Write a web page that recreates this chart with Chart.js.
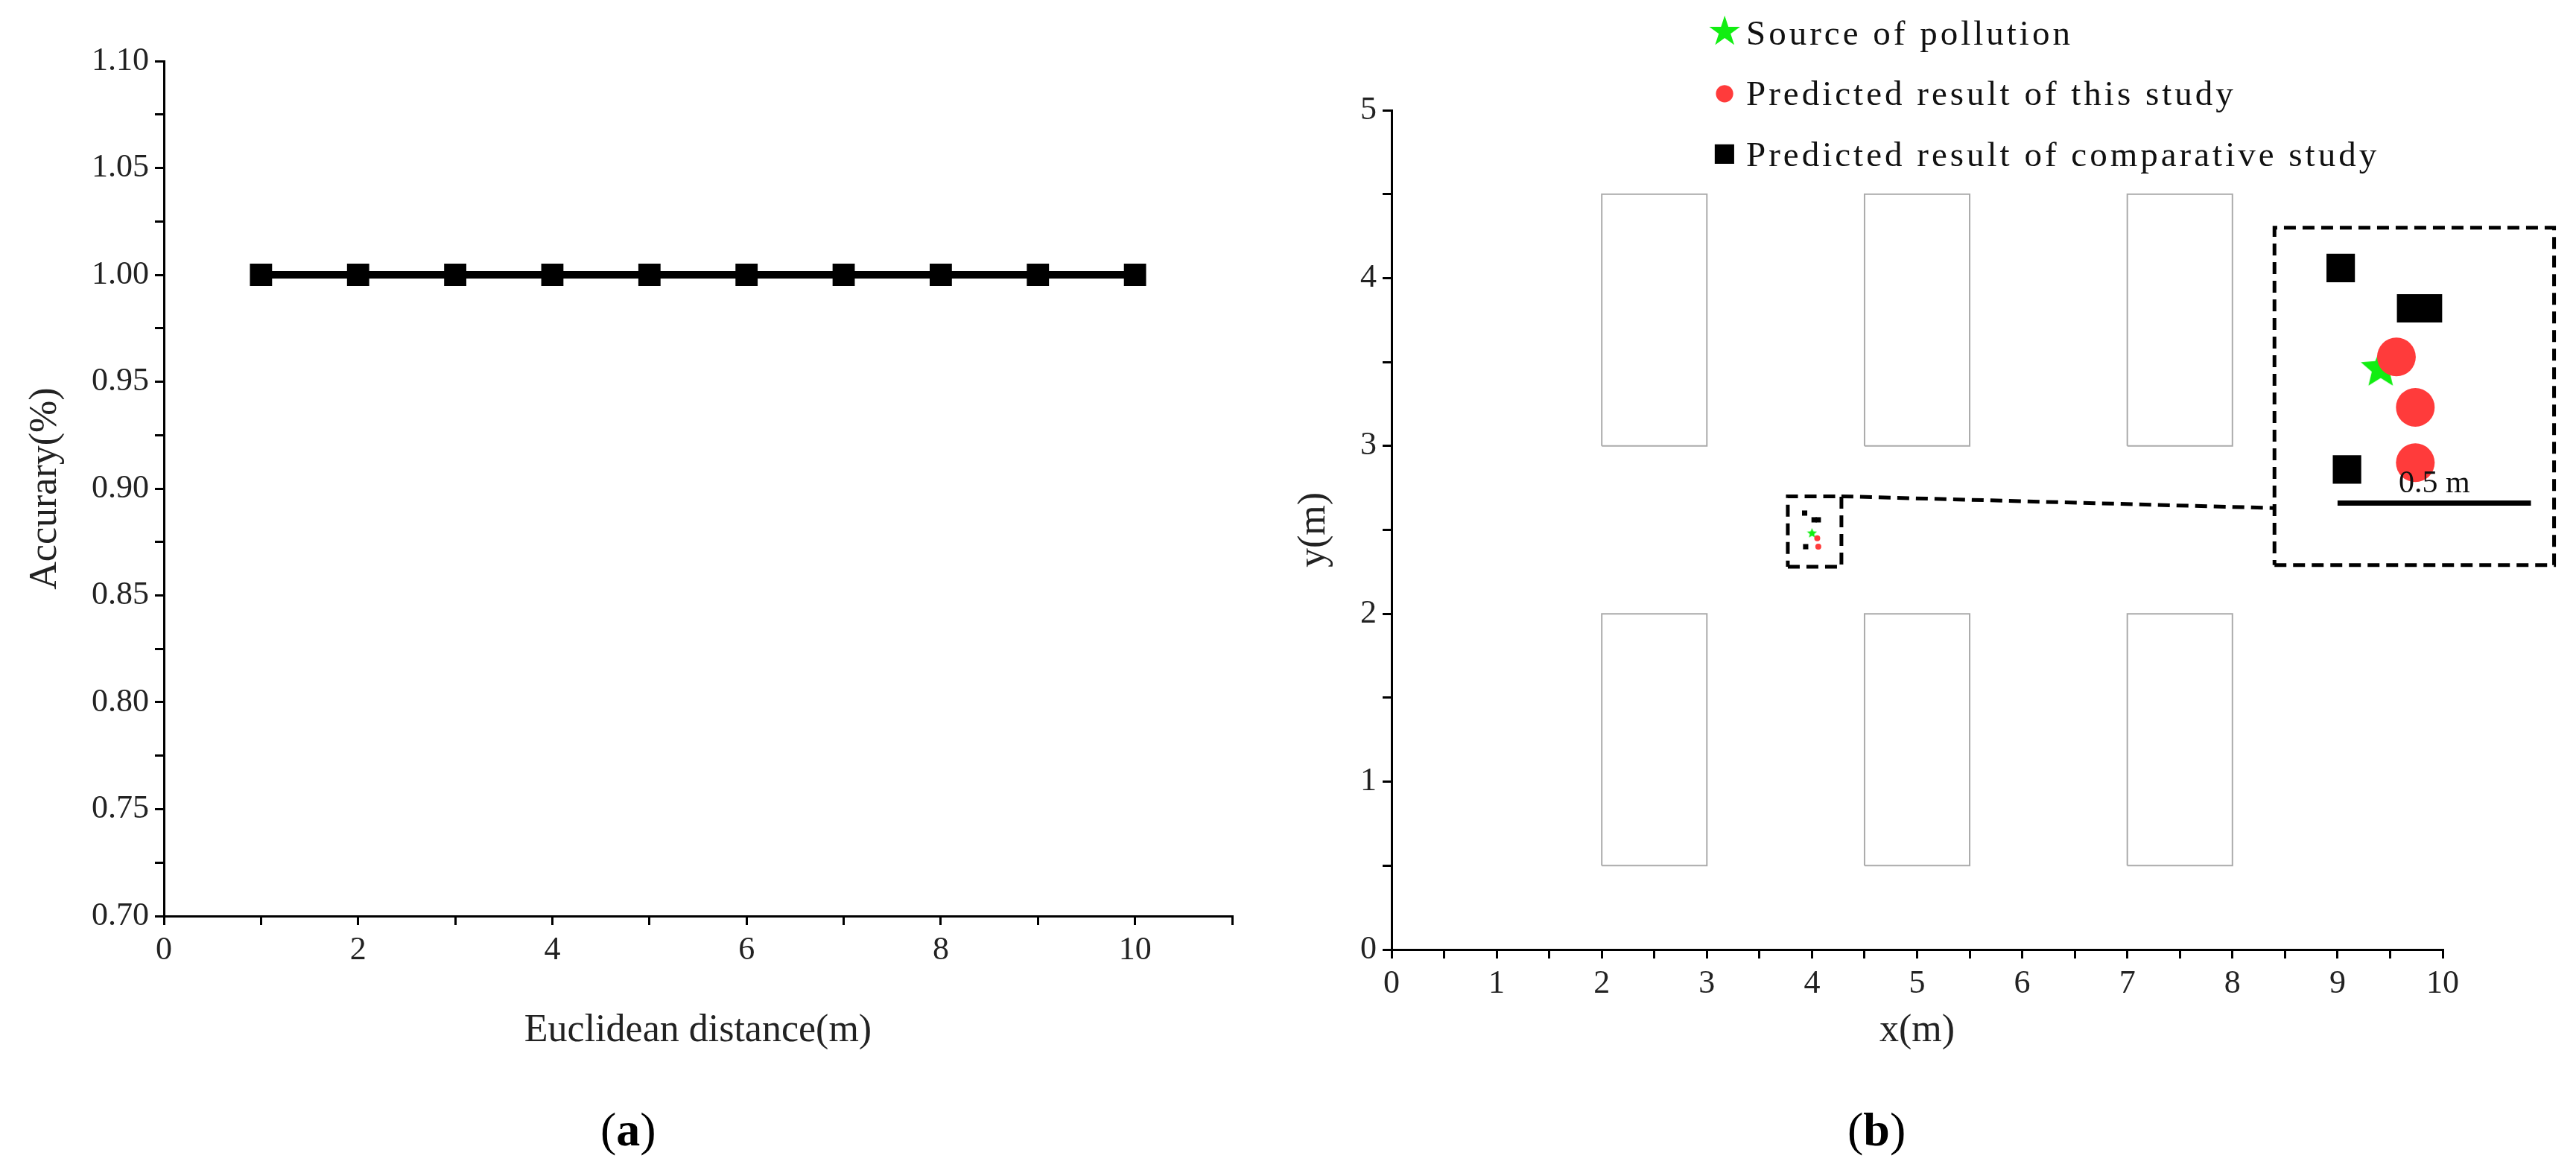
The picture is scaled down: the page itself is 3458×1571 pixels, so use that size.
<!DOCTYPE html>
<html>
<head>
<meta charset="utf-8">
<script src="https://cdn.jsdelivr.net/npm/chart.js@4/dist/chart.umd.min.js"></script>
<style>
  body { margin: 0; background: #fff; width: 3458px; height: 1571px; position: relative; overflow: hidden; font-family: 'Liberation Serif', serif; }
  canvas { position: absolute; top: 0; }
  .cap { position: absolute; top: 1480px; font-size: 64px; }
  .leg { position: absolute; left: 2290px; font-size: 47px; color: #111; letter-spacing: 4px; }
  .leg span { display: inline-block; width: 54px; text-align: center; font-size: 54px; }
</style>
</head>
<body>
<div style="position:absolute;left:0;top:0;width:1729px;height:1480px"><canvas id="chartA"></canvas></div>
<div style="position:absolute;left:1729px;top:0;width:1729px;height:1480px"><canvas id="chartB"></canvas></div>
<div class="cap" style="left:806px">(<b>a</b>)</div>
<div class="cap" style="left:2480px">(<b>b</b>)</div>
<div class="leg" style="top:10px"><span style="color:#11ee11">★</span>Source of pollution</div>
<div class="leg" style="top:92px"><span style="color:#ff3b3b">●</span>Predicted result of this study</div>
<div class="leg" style="top:174px"><span style="color:#000">■</span>Predicted result of comparative study</div>
<script>
// panel (a)
var distances = [1, 2, 3, 4, 5, 6, 7, 8, 9, 10];
var accuracy = [1.00, 1.00, 1.00, 1.00, 1.00, 1.00, 1.00, 1.00, 1.00, 1.00];

// panel (b)
var buildings = [[2, 0.5, 3, 2], [4.5, 0.5, 5.5, 2], [7, 0.5, 8, 2], [2, 3, 3, 4.5], [4.5, 3, 5.5, 4.5], [7, 3, 8, 4.5]];
var source = [{x: 4.0, y: 2.48}];
var predThis = [{x: 4.05, y: 2.45}, {x: 4.06, y: 2.40}];
var predComp = [{x: 3.93, y: 2.60}, {x: 4.02, y: 2.56}, {x: 4.06, y: 2.56}, {x: 3.94, y: 2.40}];
var zoomBox = [3.77, 2.28, 4.28, 2.70];
var insetBox = [8.4, 2.29, 11.06, 4.30];
var insetSource = [{x: 9.41, y: 3.46}];
var insetThis = [{x: 9.56, y: 3.53}, {x: 9.74, y: 3.23}, {x: 9.74, y: 2.90}];
var insetComp = [{x: 9.03, y: 4.06}, {x: 9.70, y: 3.82}, {x: 9.86, y: 3.82}, {x: 9.09, y: 2.86}];
var scaleBar = [{x: 9.0, y: 2.66}, {x: 10.84, y: 2.66}];

var font = 'Liberation Serif';
var tickFont = {family: font, size: 44};
var titleFont = {family: font, size: 52};

function boxPath(b) {
  return [{x: b[0], y: b[1]}, {x: b[2], y: b[1]}, {x: b[2], y: b[3]}, {x: b[0], y: b[3]}, {x: b[0], y: b[1]}];
}

function makeStar(r) {
  var c = document.createElement('canvas');
  c.width = c.height = r * 2;
  var g = c.getContext('2d');
  g.fillStyle = '#11ee11';
  g.beginPath();
  for (var i = 0; i < 10; i++) {
    var rad = i % 2 ? r * 0.45 : r;
    var a = -Math.PI / 2 + i * Math.PI / 5;
    g.lineTo(r + rad * Math.cos(a), r + rad * Math.sin(a));
  }
  g.closePath();
  g.fill();
  return c;
}

function axis(opts) {
  return Object.assign({
    type: 'linear',
    border: {color: '#000', width: 3},
    grid: {drawOnChartArea: false, color: '#000', lineWidth: 3, tickLength: 12},
    ticks: {color: '#222', font: tickFont, padding: 8},
    title: {display: true, color: '#222', font: titleFont}
  }, opts);
}

new Chart(document.getElementById('chartA').getContext('2d'), {
  type: 'line',
  data: {
    datasets: [{
      data: distances.map(function (d, i) { return {x: d, y: accuracy[i]}; }),
      borderColor: '#000', backgroundColor: '#000', borderWidth: 10,
      pointStyle: 'rect', pointRadius: 14
    }]
  },
  options: {
    responsive: true, maintainAspectRatio: false, animation: false,
    layout: {padding: {left: 26, top: 82, right: 75, bottom: 60}},
    plugins: {legend: {display: false}, tooltip: {enabled: false}},
    scales: {
      x: axis({min: 0, max: 11,
        ticks: {color: '#222', font: tickFont, padding: 8, stepSize: 1, autoSkip: false,
          callback: function (v) { return v % 2 === 0 && v <= 10 ? v : ''; }},
        title: {display: true, text: 'Euclidean distance(m)', color: '#222', font: titleFont},
        afterFit: function (s) { s.height = 190; }}),
      y: axis({min: 0.70, max: 1.10,
        ticks: {color: '#222', font: tickFont, padding: 8, stepSize: 0.025, autoSkip: false,
          callback: function (v) { var r = Math.round(v * 1000); return r % 50 === 0 ? v.toFixed(2) : ''; }},
        title: {display: true, text: 'Accurary(%)', color: '#222', font: titleFont},
        afterFit: function (s) { s.width = 194; }})
    }
  }
});

var labelPlugin = {
  id: 'scaleLabel',
  afterDatasetsDraw: function (chart) {
    var g = chart.ctx, x = chart.scales.x, y = chart.scales.y;
    g.save();
    g.fillStyle = '#111';
    g.font = '42px ' + font;
    g.textAlign = 'center';
    g.textBaseline = 'bottom';
    g.fillText('0.5 m', x.getPixelForValue(9.92), y.getPixelForValue(2.66) - 4);
    g.restore();
  }
};

var star = makeStar(28), starSmall = makeStar(7);
var dsB = buildings.map(function (b) {
  return {data: boxPath(b), showLine: true, borderColor: '#aaa', borderWidth: 2, pointRadius: 0};
});
var dash = {showLine: true, borderColor: '#000', borderWidth: 5, borderDash: [16, 9], pointRadius: 0, clip: false};
dsB.push(Object.assign({data: boxPath(zoomBox)}, dash));
dsB.push(Object.assign({data: boxPath(insetBox)}, dash));
dsB.push(Object.assign({data: [{x: zoomBox[2], y: zoomBox[3]}, {x: insetBox[0], y: 2.63}]}, dash));
dsB.push({data: scaleBar, showLine: true, borderColor: '#000', borderWidth: 7, pointRadius: 0, clip: false});
dsB.push({data: predComp, pointStyle: 'rect', pointRadius: 5, backgroundColor: '#000', borderWidth: 0});
dsB.push({data: predThis, pointStyle: 'circle', pointRadius: 4, backgroundColor: '#ff3b3b', borderWidth: 0});
dsB.push({data: source, pointStyle: starSmall});
dsB.push({data: insetComp, pointStyle: 'rect', pointRadius: 27, backgroundColor: '#000', borderWidth: 0, clip: false});
dsB.push({data: insetThis, pointStyle: 'circle', pointRadius: 26, backgroundColor: '#ff3b3b', borderWidth: 0, clip: false});
dsB.push({data: insetSource, pointStyle: star, clip: false});

new Chart(document.getElementById('chartB').getContext('2d'), {
  type: 'scatter',
  data: {datasets: dsB},
  options: {
    responsive: true, maintainAspectRatio: false, animation: false,
    layout: {padding: {left: 0, top: 148, right: 179, bottom: 60}},
    plugins: {legend: {display: false}, tooltip: {enabled: false}},
    scales: {
      x: axis({min: 0, max: 10,
        ticks: {color: '#222', font: tickFont, padding: 8, stepSize: 0.5, autoSkip: false,
          callback: function (v) { return Number.isInteger(v) ? v : ''; }},
        title: {display: true, text: 'x(m)', color: '#222', font: titleFont},
        afterFit: function (s) { s.height = 145; }}),
      y: axis({min: 0, max: 5,
        ticks: {color: '#222', font: tickFont, padding: 8, stepSize: 0.5, autoSkip: false,
          callback: function (v) { return Number.isInteger(v) ? v : ''; }},
        title: {display: true, text: 'y(m)', color: '#222', font: titleFont},
        afterFit: function (s) { s.width = 139; }})
    }
  },
  plugins: [labelPlugin]
});
</script>
</body>
</html>
